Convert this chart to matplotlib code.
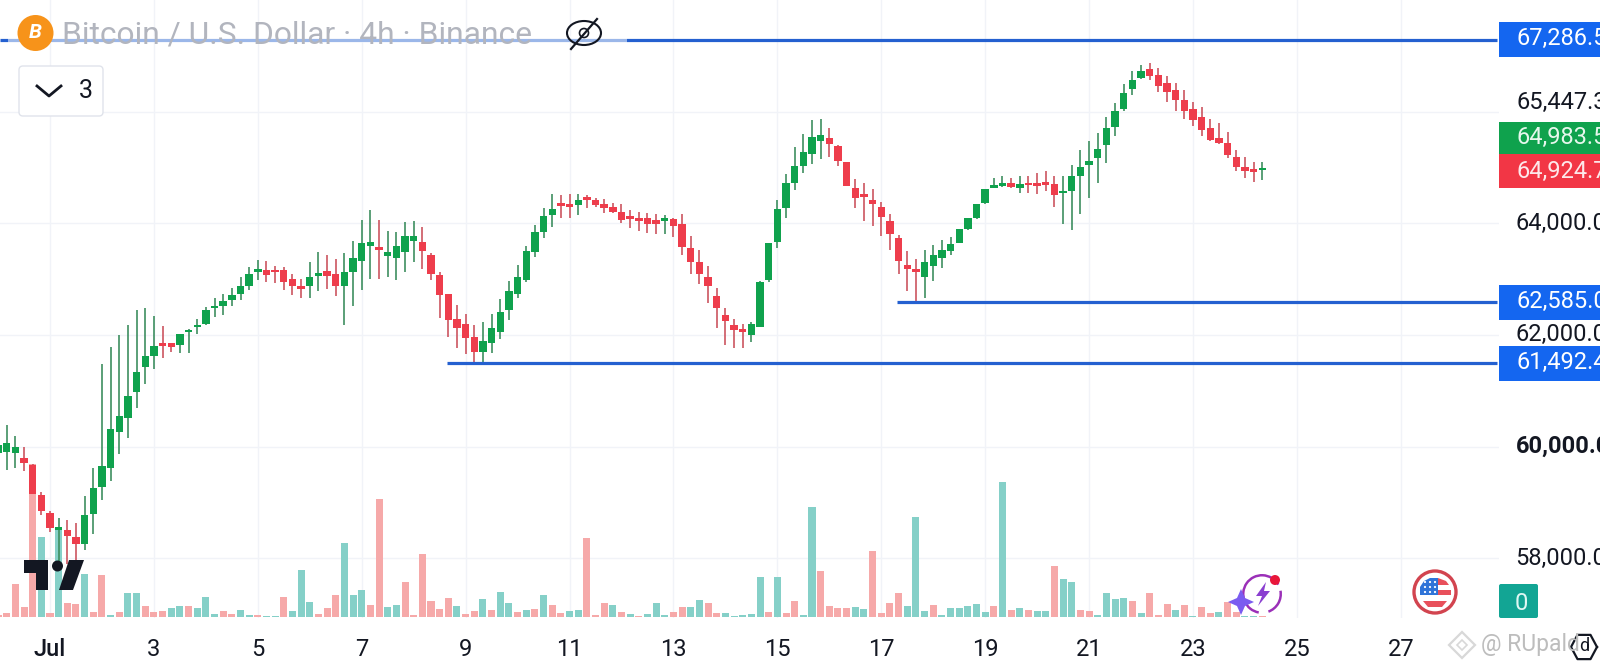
import numpy as np
import matplotlib
matplotlib.use('Agg')
import matplotlib.pyplot as plt
from matplotlib.patches import Circle, Ellipse, FancyBboxPatch, Rectangle, Wedge, Polygon
from matplotlib.transforms import ScaledTranslation

plt.rcParams['font.family'] = ['Roboto', 'DejaVu Sans']

# 4h candles, first one sits 6 bars before 1 Jul 00:00
first_bar = -6
opens = [59880, 59910, 59880, 59790, 59670, 59130, 58810, 58510, 58500, 58380,
         58260, 58790, 59270, 59610, 60270, 60510, 60970, 61430, 61630, 61860,
         61850, 61820, 62050, 62140, 62190, 62480, 62510, 62630, 62730, 62880,
         63120, 63160, 63140, 63160, 63000, 62880, 62870, 63060, 63150, 63100,
         62880, 63120, 63330, 63590, 63580, 63410, 63380, 63490, 63690, 63670,
         63430, 63070, 62730, 62290, 62190, 61970, 61690, 61860, 62050, 62450,
         62730, 62990, 63490, 63850, 64150, 64330, 64340, 64320, 64430, 64410,
         64350, 64290, 64200, 64120, 64100, 64100, 64060, 64050, 64070, 63990,
         63560, 63300, 63030, 62700, 62360, 62170, 62080, 62000, 62150, 62990,
         63670, 64270, 64730, 65030, 65240, 65480, 65520, 65390, 65090, 64640,
         64490, 64410, 64290, 64050, 63730, 63250, 63150, 63040, 63240, 63380,
         63510, 63650, 63890, 64090, 64360, 64640, 64660, 64730, 64630, 64700,
         64690, 64710, 64700, 64540, 64570, 64840, 65040, 65170, 65400, 65730,
         66040, 66410, 66610, 66760, 66660, 66520, 66390, 66200, 66050, 65910,
         65710, 65520, 65440, 65180, 65010, 64950, 64950]
highs = [60180, 60390, 60190, 60000, 59690, 59180, 58840, 58720, 58690, 58640,
         59120, 59620, 61480, 61790, 62000, 62180, 62440, 62480, 62340, 62160,
         61850, 62020, 62100, 62290, 62500, 62670, 62730, 62850, 63040, 63220,
         63340, 63320, 63240, 63210, 63100, 63010, 63300, 63490, 63430, 63360,
         63460, 63690, 64060, 64240, 64060, 63870, 63840, 64020, 64040, 63940,
         63460, 63120, 62730, 62540, 62380, 62180, 62240, 62380, 62640, 62960,
         63250, 63590, 63970, 64270, 64530, 64510, 64520, 64530, 64510, 64450,
         64430, 64360, 64340, 64240, 64210, 64180, 64170, 64150, 64090, 64170,
         63770, 63530, 63240, 62850, 62480, 62280, 62200, 62240, 62960, 63650,
         64420, 64880, 65370, 65600, 65850, 65870, 65700, 65400, 65090, 64790,
         64720, 64610, 64390, 64170, 63790, 63510, 63360, 63520, 63610, 63700,
         63760, 63890, 64090, 64350, 64620, 64820, 64840, 64810, 64840, 64850,
         64900, 64930, 64840, 64840, 65050, 65320, 65470, 65620, 65910, 66150,
         66500, 66730, 66840, 66870, 66780, 66640, 66510, 66380, 66170, 66080,
         65870, 65790, 65630, 65320, 65180, 65100, 65100]
lows = [59580, 59580, 59610, 59560, 59160, 58780, 58470, 57900, 57900, 57950,
        58150, 58440, 59040, 59390, 59870, 60160, 60700, 61120, 61390, 61590,
        61700, 61670, 61670, 62010, 62180, 62320, 62360, 62510, 62630, 62810,
        62990, 62940, 62930, 62810, 62720, 62670, 62660, 62790, 62820, 62690,
        62180, 62520, 62810, 63010, 63010, 63040, 62990, 63120, 63300, 63180,
        62990, 62300, 61960, 61760, 61660, 61520, 61520, 61670, 61920, 62270,
        62660, 62940, 63390, 63740, 63940, 64090, 64090, 64150, 64270, 64300,
        64190, 64180, 64010, 63910, 63860, 63820, 63810, 63810, 63760, 63430,
        63090, 62910, 62570, 62130, 61820, 61760, 61760, 61880, 62140, 62950,
        63550, 64090, 64590, 64900, 65070, 65160, 65190, 65030, 64660, 64270,
        64050, 63950, 63770, 63530, 63100, 62790, 62570, 62670, 62970, 63200,
        63440, 63640, 63880, 64080, 64350, 64630, 64650, 64630, 64550, 64540,
        64530, 64570, 64290, 63990, 63880, 64160, 64450, 64730, 65080, 65560,
        66010, 66290, 66580, 66560, 66350, 66180, 66010, 65860, 65750, 65570,
        65480, 65420, 65170, 64940, 64810, 64740, 64770]
closes = [60030, 60060, 59990, 59710, 59160, 58840, 58540, 58540, 58390, 58260,
          58780, 59250, 59650, 60310, 60540, 60910, 61340, 61620, 61800, 61800,
          61790, 62020, 62090, 62160, 62450, 62510, 62610, 62720, 62880, 63090,
          63190, 63070, 63120, 62940, 62880, 62820, 63040, 63100, 63060, 62880,
          63120, 63380, 63640, 63670, 63530, 63490, 63590, 63770, 63770, 63510,
          63090, 62720, 62270, 62130, 61940, 61690, 61890, 62120, 62410, 62790,
          63040, 63500, 63840, 64130, 64260, 64310, 64300, 64410, 64420, 64330,
          64280, 64200, 64060, 64080, 64040, 63990, 63990, 64060, 63960, 63580,
          63310, 63100, 62880, 62480, 62250, 62090, 62060, 62190, 62950, 63650,
          64260, 64720, 65030, 65270, 65550, 65580, 65420, 65120, 64670, 64460,
          64480, 64340, 64110, 63800, 63330, 63180, 63130, 63300, 63430, 63520,
          63630, 63890, 64090, 64350, 64620, 64690, 64730, 64650, 64710, 64680,
          64670, 64690, 64510, 64580, 64850, 65000, 65120, 65330, 65700, 66020,
          66330, 66560, 66730, 66640, 66460, 66360, 66210, 66010, 65850, 65680,
          65490, 65440, 65220, 65000, 64930, 64920, 64980]

# volume pane, arbitrary units, t = teal, p = pink
volumes = [6, 10, 98, 30, 458, 240, 10, 265, 40, 38,
           128, 15, 125, 5, 14, 70, 70, 32, 15, 18,
           25, 33, 32, 27, 60, 9, 16, 9, 20, 5,
           6, 2, 2, 60, 18, 140, 44, 9, 27, 66,
           220, 66, 79, 34, 354, 30, 36, 103, 6, 188,
           46, 23, 55, 31, 9, 18, 54, 21, 74, 40,
           15, 21, 23, 64, 36, 10, 16, 21, 235, 5,
           42, 36, 14, 7, 2, 8, 42, 5, 13, 28,
           30, 50, 42, 12, 12, 2, 6, 9, 118, 15,
           118, 11, 46, 6, 328, 138, 33, 25, 25, 29,
           22, 198, 10, 40, 72, 32, 300, 17, 36, 6,
           27, 27, 32, 38, 13, 32, 404, 21, 25, 21,
           18, 18, 152, 114, 104, 21, 16, 5, 70, 53,
           55, 48, 12, 72, 6, 38, 20, 34, 2, 29,
           12, 15, 44, 15, 3, 2, 2]
volume_sides = ('ppppptptpp' 'tpptpttppp' 'ttptttpptt' 'pttptttppp' 'tttppttppp'
                'ppptpptptt' 'ptptppttpp' 'ptptptttpp' 'ttpptttttp' 'tppttppppt'
                'tpppptttpt' 'tttttptptp' 'ttpttppttt' 'tptppptptp' 'ptppttp')

x_ticks = [1, 3, 5, 7, 9, 11, 13, 15, 17, 19, 21, 23, 25, 27]
x_labels = ['Jul', '3', '5', '7', '9', '11', '13', '15', '17', '19', '21', '23', '25', '27']
y_ticks = [58000, 60000, 62000, 64000, 66000]
y_labels = ['58,000.0', '60,000.0', '62,000.0', '64,000.0', '']

# horizontal levels: price and the day they start from
level_prices = [67286.5, 62585.0, 61492.4]
level_starts = [0.0375, 17.3, 8.64]
level_texts = ['67,286.5', '62,585.0', '61,492.4']

GREEN = '#0FA24D'
RED = '#EE3D4C'
BLUE_LINE = '#2460D0'
BLUE_BOX = '#1466F0'
GRID = '#F1F3F8'

fig = plt.figure(figsize=(16, 6.68), dpi=100, facecolor='white')
ax = fig.add_axes([0, 50 / 668, 1499 / 1600, 618 / 668])
ax.set_xlim(0.0375, 28.89)
ax.set_ylim(56930, 68000)
for s in ax.spines.values():
    s.set_visible(False)

days = 1 + (first_bar + np.arange(len(opens))) / 6
opens_a, closes_a = np.array(opens), np.array(closes)
up = closes_a >= opens_a
body_colors = [GREEN if u else RED for u in up]
wick_colors = ['#3E8F60' if u else '#CC5560' for u in up]

ax.set_axisbelow(True)
ax.grid(color=GRID, lw=1)

# volume shares the price axes, scaled down to the bottom of the pane
vol_base = 56954
vol_scale = 5.97
vol_colors = ['#85D0C8' if c == 't' else '#F6A9A9' for c in volume_sides]
ax.bar(days, np.array(volumes) * vol_scale, bottom=vol_base, width=0.135,
       color=vol_colors, zorder=1)

ax.vlines(days, lows, highs, colors=wick_colors, lw=1.2, zorder=2)
body_low = np.minimum(opens_a, closes_a)
body_h = np.maximum(np.abs(closes_a - opens_a), 45)
ax.bar(days, body_h, bottom=body_low, width=0.142, color=body_colors, zorder=3)

for price, start in zip(level_prices, level_starts):
    ax.hlines(price, start, 28.85, color=BLUE_LINE, lw=2.3, zorder=4)

ax.set_xticks(x_ticks)
ax.set_xticklabels(x_labels, fontsize=17, color='#131722')
ax.get_xticklabels()[0].set_fontweight('medium')
ax.set_yticks(y_ticks)
ax.set_yticklabels(y_labels, fontsize=17, color='#131722')
ax.yaxis.tick_right()
ax.tick_params(axis='both', length=0)
ax.tick_params(axis='y', pad=12)
ax.tick_params(axis='x', pad=14.5)
# label2 is the right hand one, nudge up a bit to sit on the grid line
lift = ScaledTranslation(0, 2 / 72, fig.dpi_scale_trans)
for t in ax.yaxis.get_major_ticks():
    t.label2.set_transform(t.label2.get_transform() + lift)
ax.yaxis.get_major_ticks()[1].label2.set_fontweight('bold')

# overlay in pixels for the tradingview furniture
ov = fig.add_axes([0, 0, 1, 1], zorder=5)
ov.set_xlim(0, 1600)
ov.set_ylim(668, 0)
ov.axis('off')
ov.patch.set_alpha(0)

# fade behind the title
ov.add_patch(Rectangle((8, 36), 619, 7, color='white', alpha=0.55, lw=0))
ov.text(62, 35, 'Bitcoin / U.S. Dollar · 4h · Binance', fontsize=22.85, color='#B2B5BE',
        va='center', ha='left')
ov.add_patch(Circle((35.5, 33), 18, color='#F7931A', lw=0))
ov.text(35.5, 33, 'B', fontsize=15, color='white', fontweight='bold', style='italic',
        ha='center', va='center')

# eye with slash
ov.add_patch(Ellipse((584, 33), 34, 24, fill=False, ec='#131722', lw=1.5))
ov.add_patch(Circle((584, 33), 4.5, fill=False, ec='#131722', lw=1.2))
ov.plot([571, 597], [49, 19], color='#131722', lw=1.6)

# legend toggle
ov.add_patch(FancyBboxPatch((19, 66), 84, 50, boxstyle='round,pad=0,rounding_size=4',
                            fc='white', ec='#E0E3EB', lw=1))
ov.plot([37, 49, 61], [86, 96, 86], color='#131722', lw=2)
ov.text(86, 91, '3', fontsize=18, color='#131722', ha='center', va='center')

# price labels on the right
for text, price in zip(level_texts, level_prices):
    yc = 223.3 + (64000 - price) * 0.05583
    ov.add_patch(Rectangle((1499, yc - 17.5), 101, 35, color=BLUE_BOX, lw=0))
    ov.text(1516, yc - 1, text, fontsize=17, color='white', va='center', ha='left')
ov.text(1516, 102, '65,447.3', fontsize=17, color='#131722', va='center', ha='left')
ov.add_patch(Rectangle((1499, 122), 101, 32, color='#0FA24D', lw=0))
ov.text(1516, 137, '64,983.5', fontsize=17, color='#E6F7EC', va='center', ha='left')
ov.add_patch(Rectangle((1499, 154), 101, 34, color='#F23645', lw=0))
ov.text(1516, 171, '64,924.7', fontsize=17, color='#FDE8EA', va='center', ha='left')
ov.add_patch(FancyBboxPatch((1499, 584), 39, 34, boxstyle='round,pad=0,rounding_size=2',
                            fc='#12A594', ec='none'))
ov.text(1521, 603, '0', fontsize=17, color='#DFF7F3', ha='center', va='center')

# tradingview logo
ov.add_patch(Polygon([(24, 560), (48, 560), (48, 590), (36, 590), (36, 573), (24, 573)],
                     color='#131722', lw=0))
ov.add_patch(Circle((57.5, 566), 5.5, color='#131722', lw=0))
ov.add_patch(Polygon([(69, 560), (84, 560), (73, 590), (59, 590)], color='#131722', lw=0))

# lightning icon
ov.add_patch(Wedge((1262, 594), 20, 100, 330, width=2.5, color='#9B30B8', lw=0))
ov.add_patch(Wedge((1262, 594), 20, 350, 70, width=2.5, color='#9B30B8', lw=0))
ov.add_patch(Polygon([(1266, 582), (1256, 596), (1262, 596), (1258, 606), (1270, 591),
                      (1264, 591)], color='#8A3FD0', lw=0))
ov.add_patch(Polygon([(1241, 589), (1245, 598), (1254, 602), (1245, 606), (1241, 615),
                      (1237, 606), (1228, 602), (1237, 598)], color='#7B5CF0', lw=0))
ov.add_patch(Circle((1275, 580), 5, color='#E8173A', lw=0))

# us flag badge
ov.add_patch(Circle((1435, 592), 21, fc='white', ec='#D2444F', lw=2.4))
ov.add_patch(Rectangle((1438, 590), 13, 5, color='#E8505B', lw=0))
ov.add_patch(Polygon([(1438, 578), (1446, 581), (1449, 585), (1438, 585)], color='#E8505B', lw=0))
ov.add_patch(Polygon([(1423, 601), (1447, 601), (1442, 607), (1428, 607)], color='#E8505B', lw=0))
ov.add_patch(Polygon([(1420, 595), (1420, 587), (1424, 581), (1430, 578), (1438, 578), (1438, 595)],
                     color='#2F74D8', lw=0))
for dy in (582, 587, 592):
    for dx in (1425, 1430, 1435):
        ov.add_patch(Circle((dx, dy), 1.1, color='white', lw=0))

# watermark
ov.add_patch(Polygon([(1462, 632), (1475, 645), (1462, 658), (1449, 645)], fill=False,
                     ec='#D8D8D8', lw=1.6))
ov.add_patch(Polygon([(1462, 640), (1467, 645), (1462, 650), (1457, 645)], fill=False,
                     ec='#D8D8D8', lw=1.2))
ov.text(1481, 644, '@ RUpald', fontsize=16.5, color='#BDBDBD', va='center', ha='left')
hex_t = np.linspace(0, 2 * np.pi, 7)
ov.plot(1584 + 13 * np.cos(hex_t), 647 + 14 * np.sin(hex_t), color='#131722', lw=1.6)
ov.text(1584, 646, 'd', fontsize=13, color='#131722', ha='center', va='center')

fig.savefig('out.png', dpi=100)
